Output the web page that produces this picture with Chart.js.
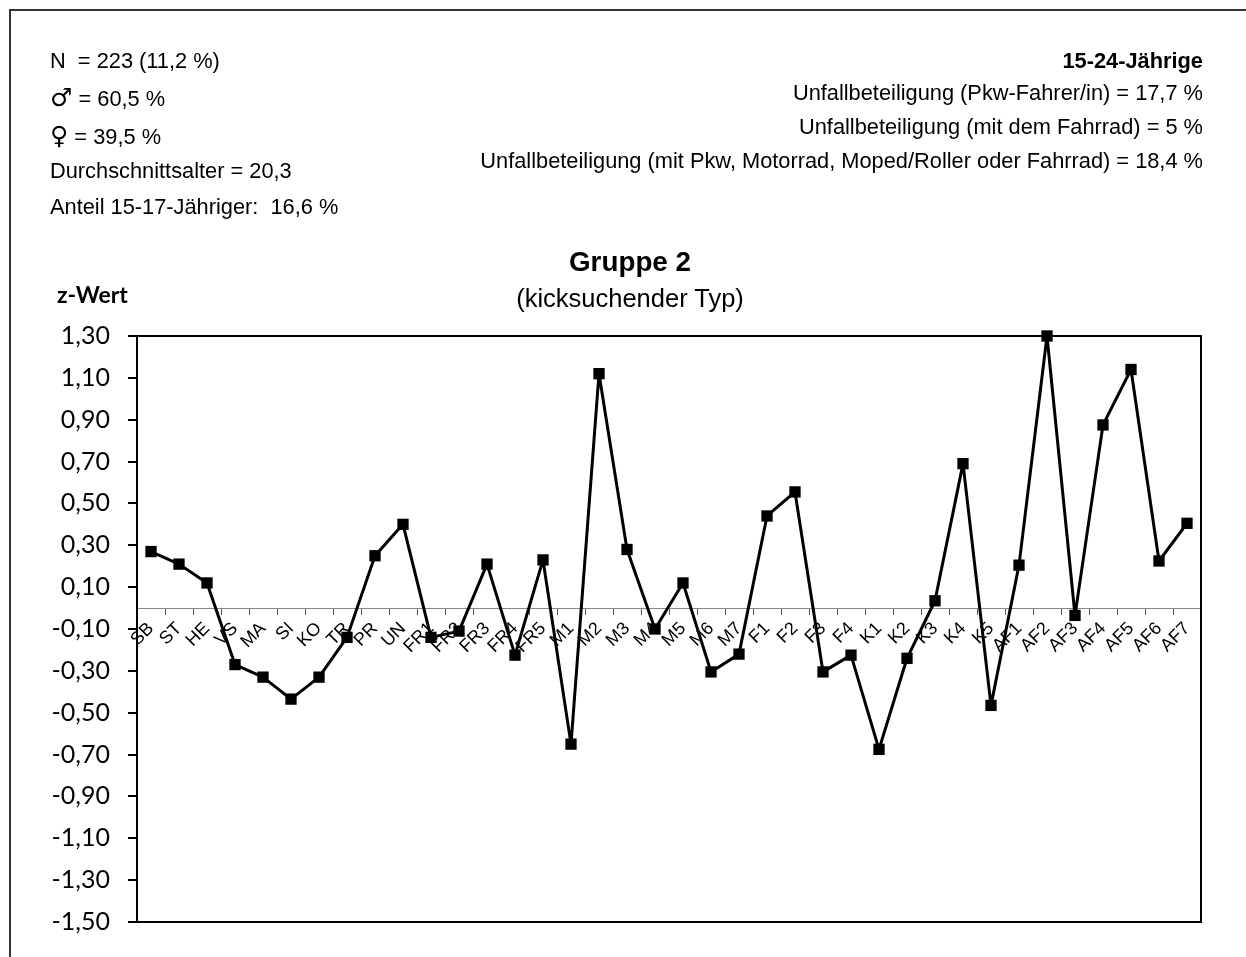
<!DOCTYPE html>
<html>
<head>
<meta charset="utf-8">
<script src="https://cdn.jsdelivr.net/npm/chart.js@4"></script>
<style>
  body { margin: 0; background: #fff; }
  #page { position: relative; width: 1246px; height: 957px; overflow: hidden; background: #fff; }
  #outer { position: absolute; left: 9px; top: 9px; width: 1300px; height: 1000px; border-left: 2px solid #333; border-top: 2px solid #333; }
  canvas { position: absolute; left: 0; top: 0; }
  .txt { position: absolute; font-family: "Liberation Sans", Arial, sans-serif; font-size: 21.8px; line-height: 26px; color: #000; white-space: pre; }
  .left { left: 50px; }
  .right { right: 43px; text-align: right; }
  .sym { font-family: "DejaVu Sans", sans-serif; font-size: 25px; font-weight: bold; }
  #title { position: absolute; left: 430px; width: 400px; text-align: center; font-family: "Liberation Sans", Arial, sans-serif; color: #000; }
  #zlabel { position: absolute; left: 57px; top: 280px; font-family: Lato, "Open Sans", sans-serif; font-weight: bold; font-size: 23px; }
</style>
</head>
<body>
<div id="page">
  <div id="outer"></div>
  <canvas id="chart" width="1246" height="957"></canvas>
  <div id="hdr"></div>
  <div id="title">
    <div style="position:absolute; left:0; width:400px; top:246px; font-weight:bold; font-size:27.8px; line-height:32px;">Gruppe 2</div>
    <div style="position:absolute; left:0; width:400px; top:284px; font-size:25.5px; line-height:28px;">(kicksuchender Typ)</div>
  </div>
  <div id="zlabel">z-Wert</div>
</div>
<script>
// Kategorien (x-Achse) und z-Werte der Gruppe 2
const categories = ["SB","ST","HE","VS","MA","SI","KO","TR","PR","UN",
  "FR1","FR2","FR3","FR4","FR5",
  "M1","M2","M3","M4","M5","M6","M7",
  "F1","F2","F3","F4",
  "K1","K2","K3","K4","K5",
  "AF1","AF2","AF3","AF4","AF5","AF6","AF7"];
const zValues = [0.27, 0.21, 0.12, -0.27, -0.33, -0.435, -0.33, -0.14, 0.25, 0.40,
  -0.14, -0.11, 0.21, -0.225, 0.23,
  -0.65, 1.12, 0.28, -0.10, 0.12, -0.305, -0.22,
  0.44, 0.555, -0.305, -0.225,
  -0.675, -0.24, 0.035, 0.69, -0.465,
  0.205, 1.30, -0.035, 0.875, 1.14, 0.225, 0.405];
const yTickValues = [-1.5, -1.3, -1.1, -0.9, -0.7, -0.5, -0.3, -0.1, 0.1, 0.3, 0.5, 0.7, 0.9, 1.1, 1.3];

const leftSymbols = ["", "\u2642", "\u2640", "", ""];
const leftInfo = ["N  = 223 (11,2 %)", " = 60,5 %", " = 39,5 %", "Durchschnittsalter = 20,3", "Anteil 15-17-Jähriger:  16,6 %"];
const leftCenters = [61, 98, 136, 171, 207];
const rightInfo = ["15-24-Jährige", "Unfallbeteiligung (Pkw-Fahrer/in) = 17,7 %", "Unfallbeteiligung (mit dem Fahrrad) = 5 %",
  "Unfallbeteiligung (mit Pkw, Motorrad, Moped/Roller oder Fahrrad) = 18,4 %"];
const rightCenters = [61, 93, 127, 161];

// Kopfzeilen
const hdr = document.getElementById("hdr");
leftInfo.forEach((t, i) => {
    const d = document.createElement("div");
    d.className = "txt left";
    d.style.top = (leftCenters[i] - 13) + "px";
    if (leftSymbols[i]) {
        const s = document.createElement("span");
        s.className = "sym";
        s.textContent = leftSymbols[i];
        d.appendChild(s);
    }
    d.appendChild(document.createTextNode(t));
    hdr.appendChild(d);
});
rightInfo.forEach((t, i) => {
    const d = document.createElement("div");
    d.className = "txt right";
    d.style.top = (rightCenters[i] - 13) + "px";
    if (i === 0) d.style.fontWeight = "bold";
    d.textContent = t;
    hdr.appendChild(d);
});

// Rahmen um die Zeichenfläche
const frame = {
    id: 'frame',
    beforeDatasetsDraw(chart) {
        const { ctx, chartArea: a } = chart;
        ctx.save();
        ctx.strokeStyle = '#000';
        ctx.lineWidth = 2;
        ctx.strokeRect(a.left, a.top, a.right - a.left, a.bottom - a.top);
        ctx.restore();
    }
};

const ctx = document.getElementById('chart').getContext('2d');
new Chart(ctx, {
    type: 'line',
    data: {
        labels: categories,
        datasets: [{
            data: zValues,
            borderColor: '#000', borderWidth: 3, borderJoinStyle: 'round',
            pointStyle: 'rect', pointRadius: 8,
            pointBackgroundColor: '#000', pointBorderColor: '#000', pointBorderWidth: 0,
            tension: 0, clip: false
        }]
    },
    options: {
        responsive: false, animation: false,
        layout: { padding: { top: 336, right: 45, bottom: 35, left: 0 } },
        plugins: { legend: { display: false }, tooltip: { enabled: false } },
        scales: {
            x: {
                type: 'category', offset: true, position: { y: 0 },
                grid: { drawOnChartArea: false, drawTicks: true, tickLength: 6, color: '#555', offset: true },
                border: { color: '#888', width: 1 },
                ticks: {
                    autoSkip: false, minRotation: 45, maxRotation: 45, padding: 4, color: '#000',
                    font: { family: 'Liberation Sans', size: 18 }
                }
            },
            y: {
                min: -1.5, max: 1.3,
                afterBuildTicks: s => { s.ticks = yTickValues.map(v => ({ value: v })); },
                afterFit: s => { s.width = 137; },
                grid: { drawOnChartArea: false, tickLength: 9, color: '#000', lineWidth: 2 },
                border: { color: '#000', width: 2 },
                ticks: {
                    padding: 18, color: '#000',
                    font: { family: 'Lato', size: 25 },
                    callback: v => v.toFixed(2).replace('.', ',')
                }
            }
        }
    },
    plugins: [frame]
});
</script>
</body>
</html>
